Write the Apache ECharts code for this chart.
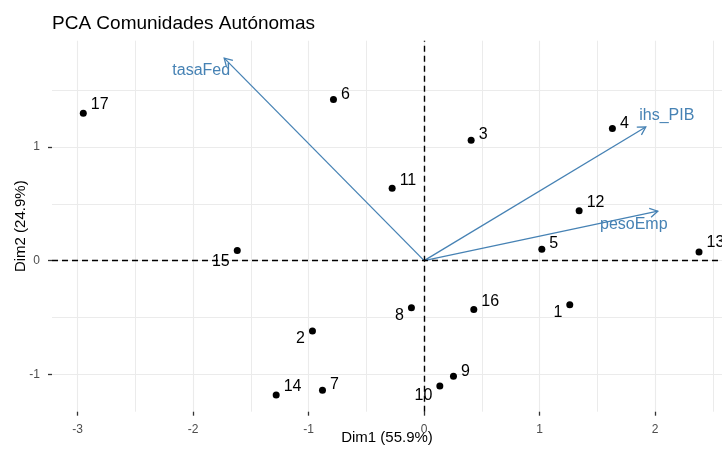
<!DOCTYPE html>
<html>
<head>
<meta charset="utf-8">
<script src="https://cdn.jsdelivr.net/npm/echarts@6/dist/echarts.min.js"></script>
<style>
  html, body { margin: 0; padding: 0; background: #ffffff; }
  #chart { width: 722px; height: 452px; }
</style>
</head>
<body>
<div id="chart"></div>
<script>
// Individuals (regions) on the first two principal components
const regionIds = ['1', '2', '3', '4', '5', '6', '7', '8', '9', '10', '11', '12', '13', '14', '15', '16', '17'];
const dim1 = [1.261, -0.967, 0.407, 1.630, 1.019, -0.785, -0.880, -0.110, 0.254, 0.136, -0.277, 1.342, 2.380, -1.281, -1.618, 0.430, -2.951];
const dim2 = [-0.388, -0.620, 1.059, 1.162, 0.101, 1.417, -1.141, -0.415, -1.018, -1.103, 0.637, 0.438, 0.075, -1.182, 0.090, -0.429, 1.296];

// Variable loadings (arrow tips)
const varNames = ['tasaFed', 'ihs_PIB', 'pesoEmp'];
const varDim1 = [-1.731, 1.919, 2.023];
const varDim2 = [1.782, 1.176, 0.435];

// Axis ticks
const majorTicksX = [-3, -2, -1, 0, 1, 2];
const minorTicksX = [-2.5, -1.5, -0.5, 0.5, 1.5, 2.5];
const majorTicksY = [-1, 0, 1];
const minorTicksY = [-1.5, -0.5, 0.5, 1.5];

// Label placement (repelled text)
const labelSide = ['left', 'left', 'right', 'right', 'right', 'right', 'right', 'left', 'right', 'left', 'right', 'right', 'right', 'right', 'left', 'right', 'right'];
const labelDy = [8, 7, -6, -5, -6, -5, -6, 8, -5, 10, -8, -8, -10, -8, 11, -8, -9];
const varLabelOffset = [[-23, 13], [21, -11], [-24, 13]];

const FONT = '"Liberation Sans", Arial, Helvetica, sans-serif';
const ARROW = '#4682B4';
const GRID = '#ebebeb';

const chart = echarts.init(document.getElementById('chart'), null, { renderer: 'canvas' });

const axisCommon = {
  type: 'value',
  axisLine: { show: false, onZero: false }
};

const points = regionIds.map((id, i) => ({
  value: [dim1[i], dim2[i]],
  name: id,
  label: {
    show: true,
    formatter: id,
    position: labelSide[i],
    distance: 4,
    offset: [0, labelDy[i]],
    color: '#000',
    fontSize: 16,
    fontFamily: FONT
  }
}));

const option = {
  backgroundColor: '#ffffff',
  animation: false,
  title: {
    text: 'PCA Comunidades Autónomas',
    left: 47,
    top: 9,
    textStyle: { color: '#000', fontSize: 19, fontWeight: 'normal', fontFamily: FONT }
  },
  grid: { left: 52, right: 0, top: 40.7, bottom: 40.3, containLabel: false, outerBoundsMode: 'none' },
  xAxis: [
    Object.assign({}, axisCommon, {
      min: -3.222, max: 2.579,
      position: 'bottom',
      axisTick: { show: true, customValues: majorTicksX, length: 4, lineStyle: { color: '#333', width: 1.3 } },
      axisLabel: { customValues: majorTicksX, margin: 12, color: '#4d4d4d', fontSize: 12, fontFamily: FONT },
      splitLine: { show: true, lineStyle: { color: GRID, width: 1.1 } },
      name: 'Dim1 (55.9%)',
      nameLocation: 'middle',
      nameGap: 19,
      nameMoveOverlap: false,
      nameTextStyle: { color: '#000', fontSize: 15, fontFamily: FONT, verticalAlign: 'top' }
    }),
    Object.assign({}, axisCommon, {
      min: -3.222, max: 2.579,
      position: 'top',
      axisTick: { show: false, customValues: minorTicksX },
      axisLabel: { show: false, customValues: minorTicksX },
      splitLine: { show: true, lineStyle: { color: GRID, width: 1 } }
    })
  ],
  yAxis: [
    Object.assign({}, axisCommon, {
      min: -1.329, max: 1.935,
      position: 'left',
      axisTick: { show: true, customValues: majorTicksY, length: 4, lineStyle: { color: '#333', width: 1.3 } },
      axisLabel: { customValues: majorTicksY, margin: 12, color: '#4d4d4d', fontSize: 12, fontFamily: FONT },
      splitLine: { show: true, lineStyle: { color: GRID, width: 1.1 } },
      name: 'Dim2 (24.9%)',
      nameLocation: 'middle',
      nameGap: 24,
      nameRotate: 90,
      nameMoveOverlap: false,
      nameTextStyle: { color: '#000', fontSize: 15, fontFamily: FONT }
    }),
    Object.assign({}, axisCommon, {
      min: -1.329, max: 1.935,
      position: 'right',
      axisTick: { show: false, customValues: minorTicksY },
      axisLabel: { show: false, customValues: minorTicksY },
      splitLine: { show: true, lineStyle: { color: GRID, width: 1 } }
    })
  ],
  series: [
    {
      // dashed reference lines through the origin
      type: 'scatter',
      data: [],
      silent: true,
      markLine: {
        silent: true,
        symbol: ['none', 'none'],
        label: { show: false },
        lineStyle: { color: '#000', type: [6, 4], width: 1.4 },
        data: [{ xAxis: 0 }, { yAxis: 0 }]
      }
    },
    {
      type: 'scatter',
      symbol: 'circle',
      symbolSize: 7,
      itemStyle: { color: '#000', opacity: 1 },
      data: points,
      z: 3
    },
    {
      type: 'custom',
      z: 4,
      data: varNames.map((n, i) => [varDim1[i], varDim2[i], i]),
      encode: { x: 0, y: 1 },
      renderItem: function (params, api) {
        const o = api.coord([0, 0]);
        const t = api.coord([api.value(0), api.value(1)]);
        const ang = Math.atan2(t[1] - o[1], t[0] - o[0]);
        const L = 9, a = Math.PI / 6;
        const h1 = [t[0] - L * Math.cos(ang - a), t[1] - L * Math.sin(ang - a)];
        const h2 = [t[0] - L * Math.cos(ang + a), t[1] - L * Math.sin(ang + a)];
        const idx = api.value(2);
        const off = varLabelOffset[idx];
        return {
          type: 'group',
          children: [
            { type: 'line', shape: { x1: o[0], y1: o[1], x2: t[0], y2: t[1] }, style: { stroke: ARROW, lineWidth: 1.3 } },
            { type: 'polyline', shape: { points: [h1, t, h2] }, style: { stroke: ARROW, fill: null, lineWidth: 1.3 } },
            {
              type: 'text',
              x: t[0] + off[0],
              y: t[1] + off[1],
              style: { text: varNames[idx], fill: ARROW, font: '16px ' + FONT, align: 'center', verticalAlign: 'middle' }
            }
          ]
        };
      }
    }
  ]
};

chart.setOption(option);
</script>
</body>
</html>
